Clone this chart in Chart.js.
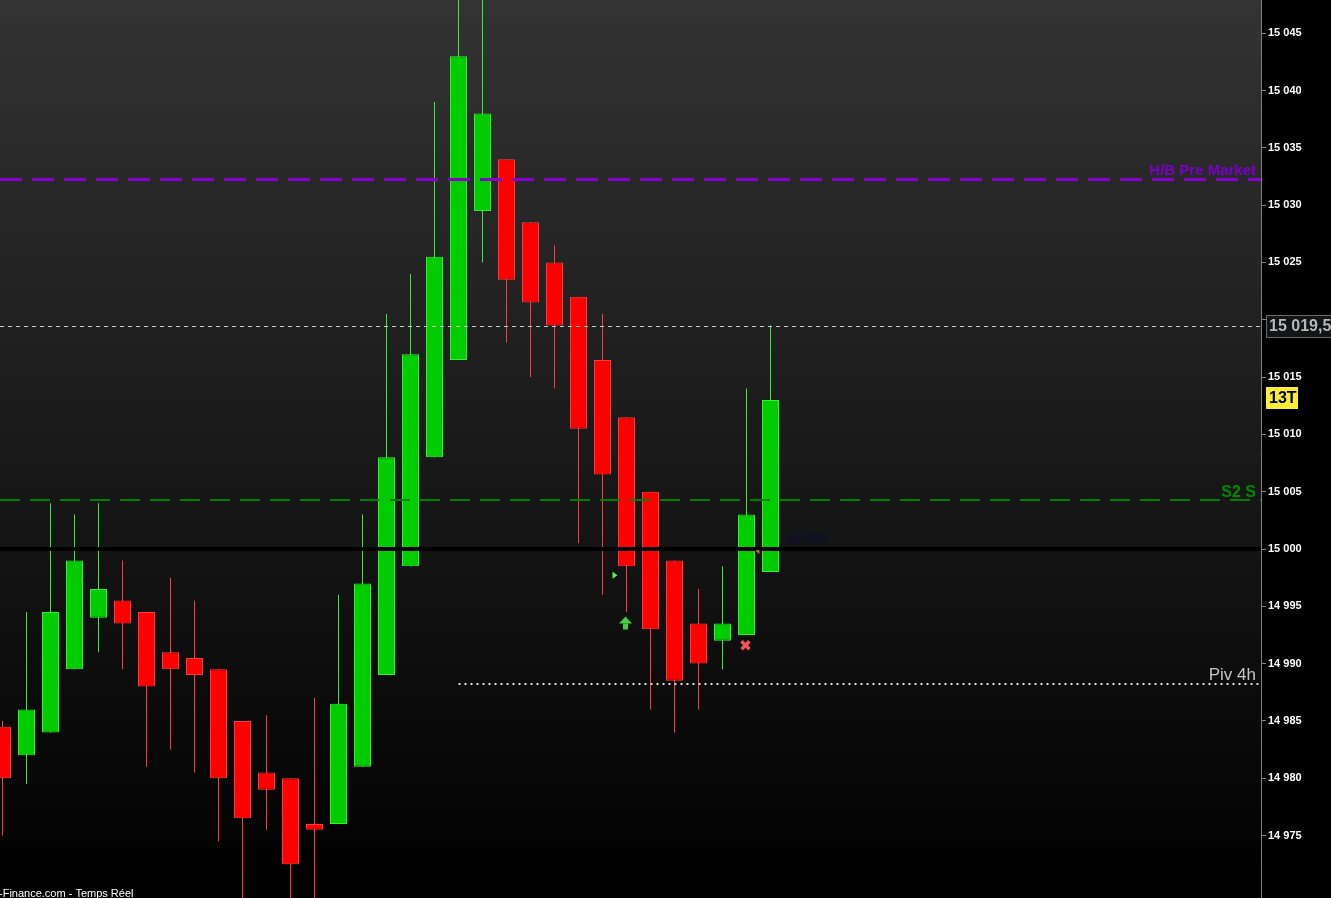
<!DOCTYPE html>
<html lang="fr">
<head>
<meta charset="UTF-8" />
<title>Chandeliers 15 000</title>
<script src="https://cdn.jsdelivr.net/npm/chart.js"></script>
<style>
  body { margin: 0; padding: 0; background: #000; overflow: hidden; }
  .wrap { width: 1331px; height: 898px; position: relative; }
</style>
</head>
<body>
<div class="wrap"><canvas id="chart"></canvas></div>
<script>
// OHLC, one candle per bar, oldest -> newest
const opens  = [14984.5, 14982, 14984, 14989.5, 14994, 14995.5, 14994.5, 14991, 14990.5, 14989.5, 14985,
                14980.5, 14980, 14976, 14976, 14981, 14989, 14998.5, 15008, 15016.5, 15029.5, 15034,
                15028.5, 15025, 15022, 15016.5, 15011.5, 15005, 14999, 14993.5, 14992, 14992.5, 14998];
const highs  = [14985, 14994.5, 15004, 15003, 15004, 14999, 14994.5, 14997.5, 14995.5, 14989.5, 14985,
                14985.5, 14980, 14987, 14996, 15003, 15020.5, 15024, 15039, 15050, 15050, 15034,
                15028.5, 15026.5, 15022, 15020.5, 15011.5, 15005, 14999, 14996.5, 14998.5, 15014, 15019.5];
const lows   = [14975, 14979.5, 14984, 14989.5, 14991, 14989.5, 14981, 14982.5, 14980.5, 14974.5, 14968,
                14975.5, 14968, 14967, 14976, 14981, 14989, 14998.5, 15008, 15016.5, 15025, 15018,
                15015, 15014, 15000.5, 14996, 14994.5, 14986, 14984, 14986, 14989.5, 14992.5, 14998];
const closes = [14980, 14986, 14994.5, 14999, 14996.5, 14993.5, 14988, 14989.5, 14989, 14980, 14976.5,
                14979, 14972.5, 14975.5, 14986.5, 14997, 15008, 15017, 15025.5, 15043, 15038, 15023.5,
                15021.5, 15019.5, 15010.5, 15006.5, 14998.5, 14993, 14988.5, 14990, 14993.5, 15003, 15013];

const yTicks = [14975, 14980, 14985, 14990, 14995, 15000, 15005, 15010, 15015, 15020, 15025, 15030, 15035, 15040, 15045];

// horizontal levels
const preMarket = 15032.3;   // H/B Pre Market
const lastPrice = 15019.5;
const s2Level = 15004.3;     // S2 S
const roundLevel = 15000;
const piv4h = 14988.2;
const pivStart = 19;         // dotted pivot line starts at this candle

// signals: [candle index, price]
const sigTriangle = [25.5, 14997.7];
const sigArrow = [26, 14993.5];
const sigCross = [31, 14991.6];
const sigTick = [31.45, 14999.8];

const GREEN = '#00cc00', GREEN_EDGE = '#33f033', GREEN_WICK = '#3ce83c';
const RED = '#ff0000', RED_EDGE = '#ff3a3a', RED_WICK = '#ff3c3c';
const FONT = '"Liberation Sans", Arial, sans-serif';

const isUp = (i) => closes[i] >= opens[i];
const fmt = (v) => String(v).replace('.', ',').replace(/\B(?=(\d{3})+(?!\d))/g, ' ');

const overlay = {
  id: 'overlay',
  beforeDraw(chart) {
    const { ctx, chartArea: a } = chart;
    ctx.save();
    ctx.fillStyle = '#000';
    ctx.fillRect(0, 0, chart.width, chart.height);
    const g = ctx.createLinearGradient(0, a.top, 0, a.bottom);
    g.addColorStop(0, '#333333');
    g.addColorStop(1, '#000000');
    ctx.fillStyle = g;
    ctx.fillRect(a.left, a.top, a.right - a.left, a.bottom - a.top);
    ctx.restore();
  },
  afterDatasetsDraw(chart) {
    const { ctx, chartArea: a, scales: { x, y } } = chart;
    const hline = (v, color, width, dash, x0) => {
      const py = Math.round(y.getPixelForValue(v)) + (width % 2 ? 0.5 : 0);
      ctx.beginPath();
      ctx.strokeStyle = color;
      ctx.lineWidth = width;
      ctx.setLineDash(dash);
      ctx.moveTo(x0 === undefined ? a.left : x0, py);
      ctx.lineTo(a.right, py);
      ctx.stroke();
      return py;
    };
    ctx.save();
    hline(roundLevel, '#000000', 4, []);
    hline(lastPrice, '#c8c8c8', 1, [4, 4]);
    hline(s2Level, '#008000', 2, [20, 10]);
    hline(preMarket, '#8800cc', 3, [22, 10]);
    hline(piv4h, '#dddddd', 2, [2, 4], x.getPixelForValue(pivStart));
    ctx.setLineDash([]);

    // level labels
    ctx.textAlign = 'right';
    ctx.textBaseline = 'alphabetic';
    ctx.font = 'bold 15px ' + FONT;
    ctx.fillStyle = '#7a00c8';
    ctx.fillText('H/B Pre Market', a.right - 5, y.getPixelForValue(preMarket) - 4);
    ctx.font = 'bold 16px ' + FONT;
    ctx.fillStyle = '#008800';
    ctx.fillText('S2 S', a.right - 5, y.getPixelForValue(s2Level) - 3);
    ctx.font = '17px ' + FONT;
    ctx.fillStyle = '#c4c4c4';
    ctx.fillText('Piv 4h', a.right - 5, y.getPixelForValue(piv4h) - 4);
    ctx.textAlign = 'left';
    ctx.font = '14px ' + FONT;
    ctx.fillStyle = '#0c0c3c';
    ctx.fillText('15 000', x.getPixelForValue(32.6), y.getPixelForValue(roundLevel) - 6);

    // signals
    let px = x.getPixelForValue(sigTriangle[0]), py = y.getPixelForValue(sigTriangle[1]);
    ctx.fillStyle = '#66ee66';
    ctx.beginPath();
    ctx.moveTo(px - 2, py - 3.5); ctx.lineTo(px + 3, py); ctx.lineTo(px - 2, py + 3.5);
    ctx.closePath(); ctx.fill();

    px = x.getPixelForValue(sigArrow[0]) - 1; py = y.getPixelForValue(sigArrow[1]);
    ctx.fillStyle = '#44cc44';
    ctx.beginPath();
    ctx.moveTo(px, py - 7); ctx.lineTo(px + 6.5, py); ctx.lineTo(px - 6.5, py);
    ctx.closePath(); ctx.fill();
    ctx.fillRect(px - 2.5, py, 5, 6);

    px = x.getPixelForValue(sigCross[0]) - 1; py = y.getPixelForValue(sigCross[1]);
    ctx.strokeStyle = '#ee5555';
    ctx.lineWidth = 3.5;
    ctx.beginPath();
    ctx.moveTo(px - 4, py - 4); ctx.lineTo(px + 4, py + 4);
    ctx.moveTo(px + 4, py - 4); ctx.lineTo(px - 4, py + 4);
    ctx.stroke();

    px = x.getPixelForValue(sigTick[0]); py = y.getPixelForValue(sigTick[1]);
    ctx.fillStyle = '#ee6666';
    ctx.beginPath();
    ctx.moveTo(px - 2, py - 1); ctx.lineTo(px + 2, py + 3); ctx.lineTo(px + 2, py - 1);
    ctx.closePath(); ctx.fill();
    ctx.restore();
  },
  afterDraw(chart) {
    const { ctx, chartArea: a, scales: { y } } = chart;
    ctx.save();
    // last price box
    let py = Math.round(y.getPixelForValue(lastPrice));
    ctx.fillStyle = '#141414';
    ctx.fillRect(a.right + 5, py - 11, 70, 22);
    ctx.strokeStyle = '#6a6a6a';
    ctx.lineWidth = 1;
    ctx.strokeRect(a.right + 5.5, py - 10.5, 70, 22);
    ctx.font = 'bold 16px ' + FONT;
    ctx.fillStyle = '#b4b8bc';
    ctx.textBaseline = 'middle';
    ctx.textAlign = 'left';
    ctx.fillText(fmt(lastPrice), a.right + 8, py + 1);

    // bar count box
    py = 398;
    ctx.fillStyle = '#fbec3a';
    ctx.fillRect(a.right + 5, py - 11, 32, 22);
    ctx.fillStyle = '#000';
    ctx.fillText('13T', a.right + 8, py + 1);

    // source line
    ctx.font = '11px ' + FONT;
    ctx.fillStyle = '#ffffff';
    ctx.textBaseline = 'alphabetic';
    ctx.fillText('-Finance.com - Temps Réel', -1, chart.height - 1);
    ctx.restore();
  }
};

const idx = opens.map((_, i) => i);

new Chart(document.getElementById('chart'), {
  type: 'bar',
  data: {
    datasets: [
      {
        label: 'wick',
        data: idx.map((i) => ({ x: i, y: [lows[i], highs[i]] })),
        backgroundColor: (c) => (isUp(c.dataIndex) ? GREEN_WICK : RED_WICK),
        borderWidth: 0,
        barThickness: 1,
        inflateAmount: 0,
        grouped: false,
        order: 2
      },
      {
        label: 'body',
        data: idx.map((i) => ({ x: i, y: [opens[i], closes[i]] })),
        backgroundColor: (c) => (isUp(c.dataIndex) ? GREEN : RED),
        borderColor: (c) => (isUp(c.dataIndex) ? GREEN_EDGE : RED_EDGE),
        borderWidth: 1,
        borderSkipped: false,
        barThickness: 17,
        inflateAmount: 0,
        grouped: false,
        order: 1
      }
    ]
  },
  options: {
    responsive: true,
    maintainAspectRatio: false,
    animation: false,
    layout: { padding: 0 },
    plugins: { legend: { display: false }, tooltip: { enabled: false } },
    scales: {
      x: {
        type: 'linear',
        offset: false,
        min: -2.5 / 24,
        max: -2.5 / 24 + 1261 / 24,
        display: false
      },
      y: {
        position: 'right',
        min: 14969.55,
        max: 15047.9,
        afterBuildTicks: (s) => { s.ticks = yTicks.map((v) => ({ value: v })); },
        afterFit: (s) => { s.width = 70; s.paddingTop = 0; s.paddingBottom = 0; },
        grid: { drawOnChartArea: false, drawTicks: true, tickLength: 5, color: '#8a8a8a' },
        border: { display: true, color: '#808080' },
        ticks: {
          padding: 2,
          color: '#ffffff',
          font: { family: FONT, size: 11, weight: 'bold' },
          callback: (v) => fmt(v)
        }
      }
    }
  },
  plugins: [overlay]
});
</script>
</body>
</html>
